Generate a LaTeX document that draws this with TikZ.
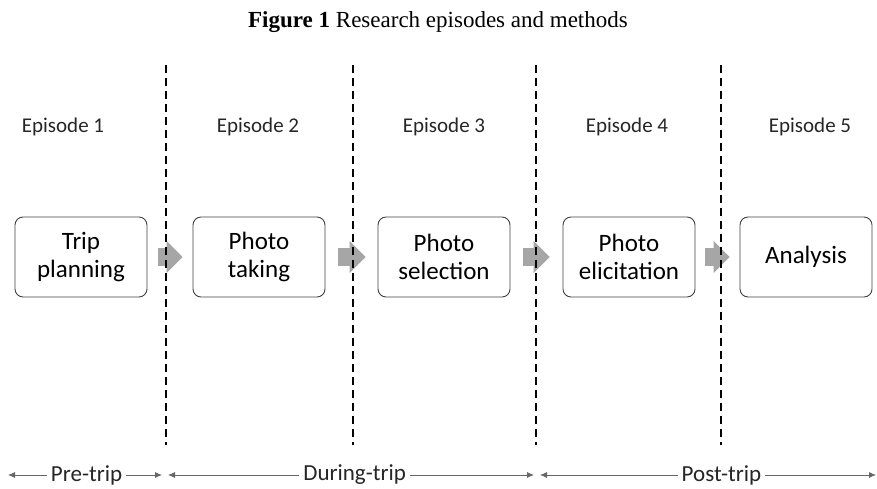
\documentclass[tikz,border=0pt]{standalone}
\usepackage{fontspec}
\setmainfont{Liberation Serif}
\newfontfamily\calib{Carlito}
\usetikzlibrary{arrows.meta, positioning, calc}
\tikzset{
  stage/.style = {draw=black!75, rounded corners=8pt, line width=0.9pt,
                  minimum width=132pt, minimum height=80pt, align=center,
                  font=\calib\fontsize{25}{28}\selectfont},
  epi/.style   = {font=\calib\fontsize{21}{24}\selectfont, text=black!85},
  phase/.style = {font=\calib\fontsize{23}{26}\selectfont, text=black!85,
                  fill=white, inner sep=4pt},
  flow/.style  = {-{Triangle[length=16pt, width=31pt]}, line width=18pt,
                  draw=black!35},
  sep/.style   = {line width=1.5pt, dash pattern=on 8pt off 5pt},
  span/.style  = {{Latex[length=7pt,width=6pt]}-{Latex[length=7pt,width=6pt]},
                  draw=black!60, line width=0.8pt}
}
\begin{document}
\begin{tikzpicture}[x=1pt, y=-1pt]
\useasboundingbox (0,0) rectangle (877,488);
% title
\node (ttl) at (438,22) {\fontsize{23}{26}\selectfont\textbf{Figure 1} Research episodes and methods};
%% ===== stages =====
\node[stage] (b1) at (81,257)  {Trip\\planning};
\node[stage] (b2) at (259,257) {Photo\\taking};
\node[stage] (b3) at (444,257) {Photo\\selection};
\node[stage] (b4) at (629,257) {Photo\\elicitation};
\node[stage] (b5) at (806,257) {Analysis};
% episode headings
\node[epi] (e1) at (63,127)  {Episode 1};
\node[epi] (e2) at (258,127) {Episode 2};
\node[epi] (e3) at (444,127) {Episode 3};
\node[epi] (e4) at (627,127) {Episode 4};
\node[epi] (e5) at (810,127) {Episode 5};
% block arrows
\draw[flow, shorten <=11pt, shorten >=10pt] (b1.east) -- (b2.west);
\draw[flow, shorten <=13pt, shorten >=12pt] (b2.east) -- (b3.west);
\draw[flow, shorten <=13pt, shorten >=13pt] (b3.east) -- (b4.west);
\draw[flow, shorten <=10pt, shorten >=10pt] (b4.east) -- (b5.west);
% separators
\foreach \x in {166,353,536,721}
  \draw[sep] (\x,65) -- (\x,445);
%% ===== phases =====
\coordinate (p0) at (8,475);
\coordinate (p1) at (162,475);
\coordinate (p2) at (168,475);
\coordinate (p3) at (534,475);
\coordinate (p4) at (540,475);
\coordinate (p5) at (876,475);
\draw[span] (p0) -- node[phase, pos=0.51] (ph1) {Pre-trip} (p1);
\draw[span] (p2) -- node[phase, pos=0.51] (ph2) {During-trip} (p3);
\draw[span] (p4) -- node[phase, pos=0.54] (ph3) {Post-trip} (p5);
\end{tikzpicture}
\end{document}
